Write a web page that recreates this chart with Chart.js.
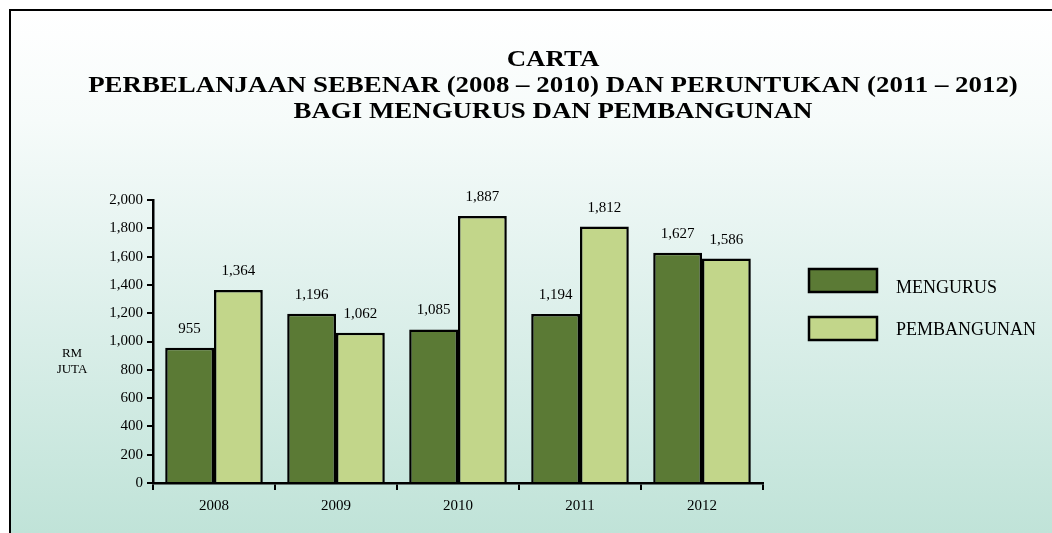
<!DOCTYPE html>
<html>
<head>
<meta charset="utf-8">
<script src="https://cdn.jsdelivr.net/npm/chart.js@4.4.1/dist/chart.umd.min.js"></script>
<style>
  html, body { margin: 0; padding: 0; background: #fff; overflow: hidden; }
  #frame {
    position: absolute; left: 9px; top: 9px; width: 1100px; height: 600px;
    border: 2px solid #000;
    background: linear-gradient(to bottom, #ffffff 0px, #f6fbfa 110px, #e2f2ee 260px, #c0e3d8 522px, #bfe2d7 600px);
  }
  #chart { position: absolute; left: 0; top: 0; }
</style>
</head>
<body>
<div id="frame"></div>
<canvas id="chart" width="1052" height="533"></canvas>
<script>
const titleLines = ['CARTA', 'PERBELANJAAN SEBENAR (2008 \u2013 2010) DAN PERUNTUKAN (2011 \u2013 2012)', 'BAGI MENGURUS DAN PEMBANGUNAN'];
const years = ['2008', '2009', '2010', '2011', '2012'];
const mengurus = [955, 1196, 1085, 1194, 1627];
const pembangunan = [1364, 1062, 1887, 1812, 1586];
const yTicks = [0, 200, 400, 600, 800, 1000, 1200, 1400, 1600, 1800, 2000];
const yTitle = ['RM', 'JUTA'];

const serif = '"Liberation Serif", "Times New Roman", serif';
const fmt = v => v.toLocaleString('en-US');

const extras = {
  id: 'extras',
  afterDraw(chart) {
    const ctx = chart.ctx;
    ctx.save();
    ctx.fillStyle = '#000';
    ctx.textAlign = 'center';
    ctx.textBaseline = 'alphabetic';
    // title, slightly widened like the original
    ctx.font = 'bold 24px ' + serif;
    titleLines.forEach((t, i) => {
      ctx.save();
      ctx.translate(553, 66 + i * 26);
      ctx.scale(1.12, 1);
      ctx.fillText(t, 0, 0);
      ctx.restore();
    });
    // axis title
    ctx.font = '13px ' + serif;
    yTitle.forEach((t, i) => ctx.fillText(t, 72, 357 + i * 16));
    // value labels
    ctx.font = '15px ' + serif;
    chart.data.datasets.forEach((ds, di) => {
      chart.getDatasetMeta(di).data.forEach((bar, i) => {
        ctx.fillText(fmt(ds.data[i]), bar.x, bar.y - 15);
      });
    });
    // legend
    ctx.textAlign = 'left';
    ctx.font = '18px ' + serif;
    chart.data.datasets.forEach((ds, di) => {
      const y = 280 + di * 48;
      ctx.fillStyle = ds.backgroundColor;
      ctx.fillRect(809, y - 11, 68, 23);
      ctx.strokeStyle = '#000';
      ctx.lineWidth = 2.5;
      ctx.strokeRect(809, y - 11, 68, 23);
      ctx.fillStyle = '#000';
      ctx.fillText(ds.label, 896, y + 13 - di * 6);
    });
    ctx.restore();
  }
};

new Chart(document.getElementById('chart'), {
  type: 'bar',
  data: {
    labels: years,
    datasets: [
      { label: 'MENGURUS', data: mengurus, backgroundColor: '#5b7a35', borderColor: '#000', borderWidth: 2.5, borderSkipped: 'bottom' },
      { label: 'PEMBANGUNAN', data: pembangunan, backgroundColor: '#c2d68a', borderColor: '#000', borderWidth: 2.5, borderSkipped: 'bottom' },
    ],
  },
  options: {
    responsive: false,
    animation: false,
    layout: { padding: { top: 200, right: 289, left: 0, bottom: 0 } },
    plugins: { legend: { display: false }, tooltip: { enabled: false } },
    datasets: { bar: { categoryPercentage: 0.8, barPercentage: 1.0 } },
    scales: {
      x: {
        afterFit: s => { s.height = 50; },
        border: { color: '#000', width: 2.5 },
        grid: { drawOnChartArea: false, color: '#000', lineWidth: 2, tickLength: 7, offset: true },
        ticks: { color: '#000', font: { family: serif, size: 15 }, padding: 7 },
      },
      y: {
        min: 0, max: 2000,
        afterFit: s => { s.width = 153; },
        afterBuildTicks: s => { s.ticks = yTicks.map(v => ({ value: v })); },
        border: { color: '#000', width: 2.5 },
        grid: { drawOnChartArea: false, color: '#000', lineWidth: 2, tickLength: 6 },
        ticks: { color: '#000', font: { family: serif, size: 15 }, padding: 4, callback: v => fmt(v) },
      },
    },
  },
  plugins: [extras],
});
</script>
</body>
</html>
